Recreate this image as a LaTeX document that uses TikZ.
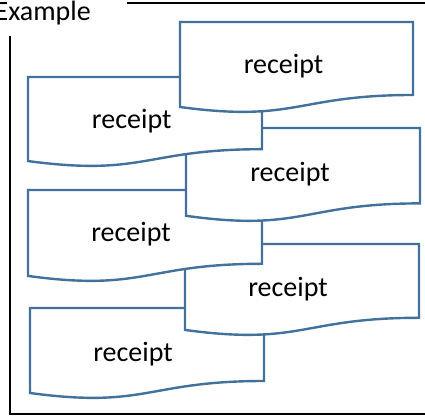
\documentclass[tikz,border=0pt]{standalone}
\usepackage{fontspec}
\setmainfont{Carlito}
\definecolor{docblue}{RGB}{65,113,156}

\begin{document}
\begin{tikzpicture}[
    x=1pt, y=-1pt,
    docline/.style={draw=docblue, fill=white, line width=2.4pt},
    framestyle/.style={line width=2.6pt},
    textstyle/.style={font=\fontsize{28}{34}\selectfont, inner sep=0pt, anchor=base},
    docpage/.pic={\path[docline] (0,0) -- (1,0) -- (1,0.802) .. controls (0.5,0.802) and (0.5,1.1075) .. (0,0.934) -- cycle;}
]
\useasboundingbox (0,0) rectangle (425,416);

% Frame and its title
\node[textstyle, anchor=base east] (frametitle) at (91,20) {Example};
\draw[framestyle] (127,3) -- (425,3);
\draw[framestyle] (10,36) -- (10,414) -- (425,414);

% Stacked receipts, bottom one first
\pic[xscale=234, yscale=91] at (30,308) {docpage};
\node[textstyle] (rcptF) at (133,361.7) {receipt};
\pic[xscale=234, yscale=92] at (185,244) {docpage};
\node[textstyle] (rcptE) at (288,296.7) {receipt};
\pic[xscale=234, yscale=92] at (28,190) {docpage};
\node[textstyle] (rcptD) at (131,241.7) {receipt};
\pic[xscale=234, yscale=94] at (186,128) {docpage};
\node[textstyle] (rcptC) at (290,181.7) {receipt};
\pic[xscale=234, yscale=90] at (28,77) {docpage};
\node[textstyle] (rcptB) at (131.7,128) {receipt};
\pic[xscale=233, yscale=91] at (180,22) {docpage};
\node[textstyle] (rcptA) at (283.5,73) {receipt};

\end{tikzpicture}
\end{document}
